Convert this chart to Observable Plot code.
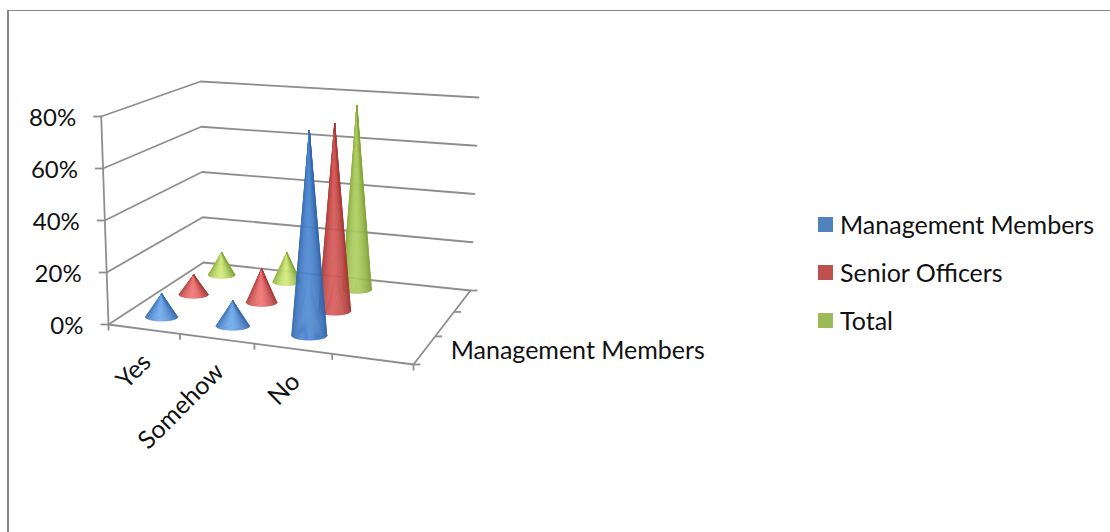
<!DOCTYPE html>
<html>
<head>
<meta charset="utf-8">
<script src="https://cdn.jsdelivr.net/npm/d3@7"></script>
<script src="https://cdn.jsdelivr.net/npm/@observablehq/plot@0.6"></script>
<style>
  html, body { margin: 0; padding: 0; background: #fff; }
  #page { position: relative; width: 1110px; height: 532px; overflow: hidden; font-family: Lato, sans-serif; }
  #frame { position: absolute; left: 7px; top: 10px; width: 1200px; height: 600px; border-left: 2px solid #868686; border-top: 1.5px solid #868686; }
  #legend { position: absolute; left: 818px; top: 200px; color: #111; font-size: 25px; }
  #legend div { height: 48px; display: flex; align-items: center; }
  #legend i { width: 15px; height: 15px; margin-right: 7px; display: block; }
  svg { position: absolute; left: 0; top: 0; }
</style>
</head>
<body>
<div id="page">
  <div id="frame"></div>
  <div id="chart"></div>
  <div id="legend"></div>
</div>
<script>
// Survey responses, in percent
const categories = ["Yes", "Somehow", "No"];
const seriesNames = ["Management Members", "Senior Officers", "Total"];
const managementMembers = [9, 9.6, 77.6];
const seniorOfficers = [8, 13.6, 74.4];
const total = [9.5, 12.3, 76.4];
const seriesValues = [managementMembers, seniorOfficers, total];
const valueTicks = [0, 20, 40, 60, 80];
const depthLabel = "Management Members";
const legendColors = ["#4f81bd", "#c0504d", "#9bbb59"];
// Steep cones catch less light than shallow ones
const coneShades = [
  {edge: "#3468ac", steep: "#4f89d2", shallow: "#74aef0"},
  {edge: "#a83a38", steep: "#d45a58", shallow: "#f57a78"},
  {edge: "#85a63c", steep: "#aecd62", shallow: "#d6f080"}
];

// Box corners of the 3D scene on the page: [front-left, front-right, back-left, back-right]
const floorCorners = [[108, 324], [413, 364], [203, 262], [470, 290]];
const topCorners = [[100.7, 116], [422, 142], [200, 81], [478, 97]];
const slots = 4;         // the category axis has one unused trailing slot
const slotCentres = [0.5, 1.5, 2.53];
const valueMax = 80;

const warp = (t, k) => t / (t + k * (1 - t));
const mix = (a, b, t) => a + (b - a) * t;

// Project (category position, depth position, value) to page coordinates
function project(c, s, v) {
  const u = warp(c / slots, 1.09);
  const d = warp(s / seriesNames.length, 0.816);
  const w = v / valueMax;
  const on = (q) => [0, 1].map((i) => mix(
    mix(q[0][i], q[1][i], u),
    mix(q[2][i], q[3][i], u), d));
  const a = on(floorCorners), b = on(topCorners);
  return [mix(a[0], b[0], w), mix(a[1], b[1], w)];
}

// Grid, walls and floor
const wallLines = [];
valueTicks.forEach((v) => wallLines.push(
  {id: `l${v}`, p: project(0, 0, v)}, {id: `l${v}`, p: project(0, seriesNames.length, v)},
  {id: `l${v}`, p: project(slots, seriesNames.length, v)}
));
wallLines.push(
  {id: "axis", p: project(0, 0, 0)}, {id: "axis", p: project(0, 0, valueMax)},
  {id: "front", p: project(0, 0, 0)}, {id: "front", p: project(slots, 0, 0)},
  {id: "side", p: project(slots, 0, 0)}, {id: "side", p: project(slots, seriesNames.length, 0)}
);

// Tick marks along the three axes
const valueTickRows = valueTicks.map((v) => ({v, p: project(0, 0, v)}));
const catTickRows = d3.range(slots + 1).map((c) => ({p: project(c, 0, 0)}));
const depthTickRows = d3.range(seriesNames.length + 1).map((s) => ({p: project(slots, s, 0)}));

// Each cone is a fan of narrow facets so the shading tapers towards the tip
const facets = [];
const facetCount = 48;
for (let s = seriesNames.length - 1; s >= 0; s--) {
  categories.forEach((cat, c) => {
    const centre = slotCentres[c];
    const value = seriesValues[s][c];
    const base = project(centre, s + 0.5, 0);
    const tip = project(centre, s + 0.5, value);
    const depthScale = mix(1.1, 0.95, (s + 0.5) / seriesNames.length);
    const rx = depthScale * (project(centre + 0.215, s + 0.5, 0)[0] - project(centre - 0.215, s + 0.5, 0)[0]) / 2;
    const ry = rx * 0.27;
    const shade = coneShades[s];
    const light = d3.interpolateRgb(shade.shallow, shade.steep)(value / valueMax);
    for (let i = 0; i < facetCount; i++) {
      const t0 = Math.PI * (1 - i / facetCount);
      const t1 = Math.PI * (1 - (i + 1) / facetCount);
      const pos = Math.cos((t0 + t1) / 2);
      const fill = d3.interpolateRgb(light, shade.edge)(Math.pow(Math.abs(pos + 0.08) / 1.08, 1.5));
      const id = `${s}-${c}-${i}`;
      [[base[0], tip[1]], [base[0] + rx * Math.cos(t0), base[1] + ry * Math.sin(t0)],
       [base[0] + rx * Math.cos(t1), base[1] + ry * Math.sin(t1)]]
        .forEach((p) => facets.push({id, fill, p}));
    }
  });
}

const X = (d) => d.p[0], Y = (d) => d.p[1];
const axisGray = "#8e8e8e";
const wordFont = {fontFamily: "Lato, sans-serif", fontSize: 25, fill: "#111"};
const numberFont = {fontFamily: "Lato, sans-serif", fontSize: 24, fill: "#111"};

const chart = Plot.plot({
  width: 1110, height: 532,
  margin: 0,
  style: {background: "transparent"},
  x: {domain: [0, 1110], range: [0, 1110], axis: null},
  y: {domain: [0, 532], range: [0, 532], axis: null},
  color: {type: "identity"},
  marks: [
    Plot.line(wallLines, {x: X, y: Y, z: "id", stroke: axisGray, strokeWidth: 1.8}),
    Plot.link(valueTickRows, {x1: (d) => d.p[0] - 8, x2: X, y1: Y, y2: Y, stroke: axisGray, strokeWidth: 1.8}),
    Plot.link(catTickRows, {x1: X, x2: X, y1: Y, y2: (d) => d.p[1] + 6, stroke: axisGray, strokeWidth: 1.8}),
    Plot.link(depthTickRows, {x1: X, x2: (d) => d.p[0] + 7, y1: Y, y2: Y, stroke: axisGray, strokeWidth: 1.8}),
    Plot.line(facets, {x: X, y: Y, z: "id", fill: "fill", stroke: "fill", strokeWidth: 0.6}),
    Plot.text(valueTickRows, {x: X, y: Y, text: (d) => `${d.v}%`, textAnchor: "end", dx: -25, dy: 2, ...numberFont}),
    Plot.text(categories, {
      x: (d, i) => project(i + 0.5, 0, 0)[0], y: (d, i) => project(i + 0.5, 0, 0)[1],
      text: (d) => d, rotate: -45, textAnchor: "end", dx: 3, dy: 29, ...wordFont
    }),
    Plot.text([depthLabel], {
      x: () => project(slots, 0.5, 0)[0], y: () => project(slots, 0.5, 0)[1],
      text: (d) => d, textAnchor: "start", dx: 26, dy: 1, ...wordFont
    })
  ]
});
document.getElementById("chart").append(chart);

const legend = document.getElementById("legend");
seriesNames.forEach((name, i) => {
  const row = document.createElement("div");
  const swatch = document.createElement("i");
  swatch.style.background = legendColors[i];
  row.append(swatch, name);
  legend.append(row);
});
</script>
</body>
</html>
